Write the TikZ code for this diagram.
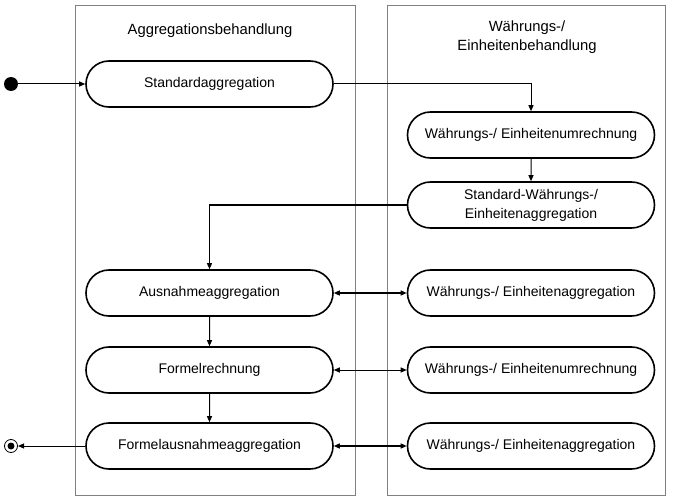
\documentclass[tikz,border=0pt]{standalone}
\usepackage{fontspec}
\setmainfont{Liberation Sans}
\usetikzlibrary{arrows.meta,positioning,shapes.misc}
\definecolor{lanegray}{RGB}{128,128,128}

\begin{document}
\begin{tikzpicture}[x=1pt,y=-1pt,>={Triangle[length=6pt,width=5pt]},
  lane/.style={draw=lanegray,line width=0.8pt},
  activity/.style={draw,line width=1.6pt,rounded rectangle,minimum width=247pt,
    minimum height=46pt,inner sep=0pt,align=center,
    font=\fontsize{14}{19}\selectfont},
  title/.style={align=center,font=\fontsize{14.8}{19}\selectfont},
  flow/.style={->,line width=1pt},
  exchange/.style={<->,line width=1.3pt}]
  \useasboundingbox (0,0) rectangle (678,500);
  % swimlanes
  \draw[lane] (75,5) rectangle (355,495);
  \draw[lane] (387,5) rectangle (665,495);
  \node[title] (aggTitle) at (210,31) {Aggregationsbehandlung};
  \node[title] (currTitle) at (527,37) {Währungs-/\\Einheitenbehandlung};
  % initial and final state
  \fill (11,84) circle (7pt) coordinate (start);
  \draw[line width=0.8pt] (11,446) circle (6.5pt);
  \fill (11,446) circle (3.5pt);
  \coordinate (stop) at (18,446);
  % left lane
  \node[activity] (stdAgg) at (209.5,84) {Standardaggregation};
  \node[activity] (excAgg) at (209.5,293) {Ausnahmeaggregation};
  \node[activity] (formula) at (209.5,370) {Formelrechnung};
  \node[activity] (formExc) at (209.5,446) {Formelausnahmeaggregation};
  % right lane
  \node[activity] (conv1) at (531,135) {Währungs-/ Einheitenumrechnung};
  \node[activity] (stdCurr) at (531,205) {Standard-Währungs-/\\Einheitenaggregation};
  \node[activity] (currAgg1) at (531,293) {Währungs-/ Einheitenaggregation};
  \node[activity] (conv2) at (531,370) {Währungs-/ Einheitenumrechnung};
  \node[activity] (currAgg2) at (531,446) {Währungs-/ Einheitenaggregation};
  % control flow
  \draw[flow] (start) -- (stdAgg.west);
  \draw[flow] (stdAgg.east) -| (conv1.north);
  \draw[flow] (conv1) -- (stdCurr);
  \draw[flow,line width=1.3pt] (stdCurr.west) -| (excAgg.north);
  \draw[flow] (excAgg) -- (formula);
  \draw[flow] (formula) -- (formExc);
  \draw[flow] (formExc.west) -- (stop);
  \draw[exchange] (excAgg.east) -- (currAgg1.west);
  \draw[exchange,line width=1pt] (formula.east) -- (conv2.west);
  \draw[exchange] (formExc.east) -- (currAgg2.west);
\end{tikzpicture}
\end{document}
